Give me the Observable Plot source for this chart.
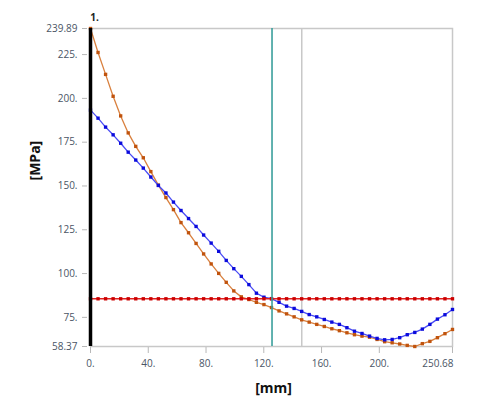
<!DOCTYPE html>
<html>
<head>
<meta charset="utf-8">
<script src="https://cdn.jsdelivr.net/npm/d3@7"></script>
<script src="https://cdn.jsdelivr.net/npm/@observablehq/plot@0.6"></script>
<style>
  html, body { margin: 0; padding: 0; background: #fff; }
  svg { font-family: "Open Sans", "DejaVu Sans", sans-serif; }
</style>
</head>
<body>
<div id="chart"></div>
<script>
// ---- data ----
const xMin = 0, xMax = 250.68;
const yMin = 58.37, yMax = 239.89;
const sampleCount = 49; // sample positions along the path, evenly spaced 0 .. 250.68 mm
const xTicks = [0, 40, 80, 120, 160, 200, 250.68];
const xTickLabels = ["0.", "40.", "80.", "120.", "160.", "200.", "250.68"];
const yTicks = [58.37, 75, 100, 125, 150, 175, 200, 225, 239.89];
const yTickLabels = ["58.37", "75.", "100.", "125.", "150.", "175.", "200.", "225.", "239.89"];

const orangeValues = [239.89, 226.2, 213.7, 201.2, 190.0, 180.3, 172.6, 166.1, 158.2, 150.5,
  143.4, 136.5, 129.1, 123.3, 117.2, 111.2, 105.5, 100.1, 95.0, 90.1,
  86.7, 85.2, 83.6, 82.3, 80.6, 78.7, 77.0, 75.3, 73.6, 72.3,
  71.0, 69.8, 68.5, 67.4, 66.2, 65.1, 64.3, 63.7, 62.4, 61.1,
  60.5, 59.8, 59.0, 58.37, 60.0, 61.3, 63.4, 65.7, 68.1];
const blueValues = [193.3, 188.7, 183.6, 179.2, 174.4, 169.3, 164.8, 160.2, 155.1, 150.3,
  146.0, 140.8, 136.0, 131.4, 126.9, 122.0, 117.4, 112.7, 107.5, 102.8,
  98.4, 93.7, 88.8, 86.5, 85.7, 83.6, 81.4, 80.1, 78.4, 76.6,
  75.3, 73.8, 72.3, 71.0, 69.1, 67.1, 65.8, 64.3, 63.0, 62.2,
  62.4, 63.4, 65.1, 66.4, 68.3, 71.0, 74.0, 76.5, 79.5];
const limitValue = 85.6;
const probeA = 125.7;   // teal cursor line
const probeB = 146.3;   // grey line
const pathLabel = "1.";

// ---- build tables ----
const xs = d3.range(sampleCount).map(i => xMin + (xMax - xMin) * i / (sampleCount - 1));
const orange = xs.map((x, i) => ({x, y: orangeValues[i]}));
const blue = xs.map((x, i) => ({x, y: blueValues[i]}));
const red = xs.map(x => ({x, y: limitValue}));
const lastTick = xTicks[xTicks.length - 1];

const tickColor = "#b8b8b8";
const labelColor = "#4a5565";

const chart = Plot.plot({
  width: 479,
  height: 420,
  marginLeft: 90,
  marginRight: 27,
  marginTop: 28,
  marginBottom: 74,
  style: {fontFamily: "'Open Sans', 'DejaVu Sans', sans-serif", background: "white"},
  x: {domain: [xMin, xMax]},
  y: {domain: [yMin, yMax]},
  marks: [
    Plot.frame({stroke: "#c8c8c8", strokeWidth: 1.5}),
    Plot.axisY({ticks: yTicks, tickFormat: (d, i) => yTickLabels[i], tickSize: 5, tickPadding: 5, dx: -3,
      stroke: tickColor, fill: labelColor, fontSize: 10, label: null}),
    Plot.axisX({ticks: xTicks, tickFormat: (d, i) => (i === xTicks.length - 1 ? "" : xTickLabels[i]),
      tickSize: 6, tickPadding: 6, dy: 1, stroke: tickColor, fill: labelColor, fontSize: 10, label: null}),
    Plot.text([lastTick], {x: d => d, frameAnchor: "bottom", lineAnchor: "top", dy: 13, dx: 1,
      textAnchor: "end", text: () => xTickLabels[xTickLabels.length - 1], fill: labelColor, fontSize: 10}),
    Plot.ruleX([probeB], {stroke: "#c8c8c8", strokeWidth: 1.5}),
    Plot.line(orange, {x: "x", y: "y", stroke: "#d9803e", strokeWidth: 1.3}),
    Plot.dot(orange, {x: "x", y: "y", symbol: "square", r: 1.9, fill: "#c0530d", stroke: "none"}),
    Plot.line(blue, {x: "x", y: "y", stroke: "#4a4cf5", strokeWidth: 1.3}),
    Plot.dot(blue, {x: "x", y: "y", symbol: "square", r: 1.9, fill: "#0b0bdc", stroke: "none"}),
    Plot.line(red, {x: "x", y: "y", stroke: "#e02020", strokeWidth: 1.5}),
    Plot.dot(red, {x: "x", y: "y", symbol: "square", r: 1.9, fill: "#cc0000", stroke: "none"}),
    Plot.ruleX([probeA], {stroke: "#3a9f9c", strokeWidth: 1.6, y1: yMin, y2: yMax}),
    Plot.ruleX([xMin], {stroke: "black", strokeWidth: 3.5, y1: yMin, y2: yMax}),
    Plot.text([xMin], {x: d => d, frameAnchor: "top", dy: -15, dx: 4, text: () => pathLabel,
      fontWeight: "bold", fontSize: 10, fill: "#222"}),
    Plot.text(["[MPa]"], {frameAnchor: "left", dx: -55, dy: -7, rotate: -90, text: d => d,
      fontWeight: "bold", fontSize: 14, fill: "#111"}),
    Plot.text(["[mm]"], {frameAnchor: "bottom", dy: 46, dx: 2, text: d => d,
      fontWeight: "bold", fontSize: 14, fill: "#111"})
  ]
});
document.getElementById("chart").appendChild(chart);
</script>
</body>
</html>
